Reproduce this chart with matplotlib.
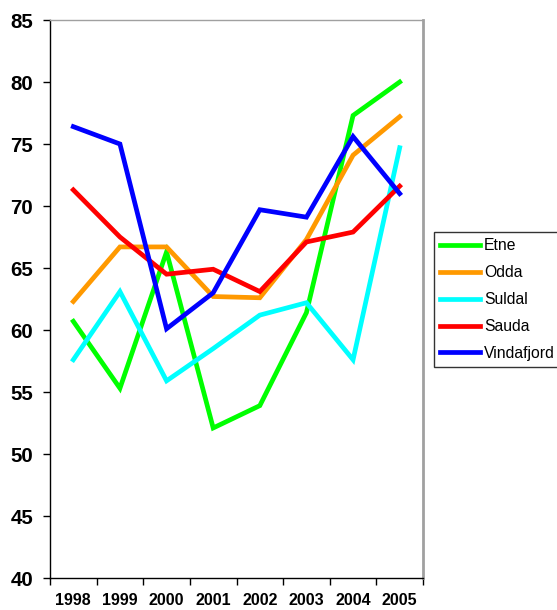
import matplotlib
matplotlib.use("Agg")
import matplotlib.pyplot as plt

years = ["1998", "1999", "2000", "2001", "2002", "2003", "2004", "2005"]
etne = [60.7, 55.3, 66.3, 52.1, 53.9, 61.4, 77.3, 80.0]
odda = [62.3, 66.7, 66.7, 62.7, 62.6, 67.3, 74.1, 77.2]
suldal = [57.6, 63.1, 55.9, 58.5, 61.2, 62.2, 57.6, 74.7]
sauda = [71.3, 67.5, 64.5, 64.9, 63.1, 67.1, 67.9, 71.6]
vindafjord = [76.4, 75.0, 60.1, 63.0, 69.7, 69.1, 75.6, 71.0]

series = [("Etne", etne, "#00ff00"), ("Odda", odda, "#ff9900"),
          ("Suldal", suldal, "#00ffff"), ("Sauda", sauda, "#ff0000"),
          ("Vindafjord", vindafjord, "#0000ff")]

plt.rcParams['font.family'] = ['Liberation Sans', 'DejaVu Sans']

fig = plt.figure(figsize=(5.57, 6.10), dpi=100)
ax = fig.add_axes([50/557, 32/610, 373/557, 558/610])

x = list(range(len(years)))
for name, vals, col in series:
    ax.plot(x, vals, color=col, lw=3.4, label=name, solid_joinstyle='miter')

ax.set_xlim(-0.5, len(years) - 0.5)
ax.set_ylim(40, 85)
ax.set_yticks(range(40, 86, 5))
ax.set_yticklabels([str(v) for v in range(40, 86, 5)], fontsize=14.8, fontweight='bold')
ax.set_xticks(x)
ax.set_xticklabels(years, fontsize=11.5, fontweight='bold')
ax.set_xticks([i - 0.5 for i in range(len(years) + 1)], minor=True)
ax.tick_params(axis='x', which='major', length=0, pad=11)
ax.tick_params(axis='x', which='minor', length=5, width=1, direction='out')
ax.tick_params(axis='y', which='major', length=5, width=1, direction='out', pad=7)

for s in ['left', 'bottom']:
    ax.spines[s].set_color('black')
    ax.spines[s].set_linewidth(1)
ax.spines['top'].set_color('#a0a0a0')
ax.spines['top'].set_linewidth(1)
ax.spines['right'].set_color('#a0a0a0')
ax.spines['right'].set_linewidth(2)

leg = fig.legend(loc='upper left', bbox_to_anchor=(434/557, 1 - 232/610),
                 fontsize=11.3, frameon=True, fancybox=False, edgecolor='black',
                 handlelength=2.55, handletextpad=0.25, labelspacing=0.76,
                 borderpad=0.4, borderaxespad=0)
leg.get_frame().set_linewidth(1)

fig.savefig("out.png", dpi=100)
